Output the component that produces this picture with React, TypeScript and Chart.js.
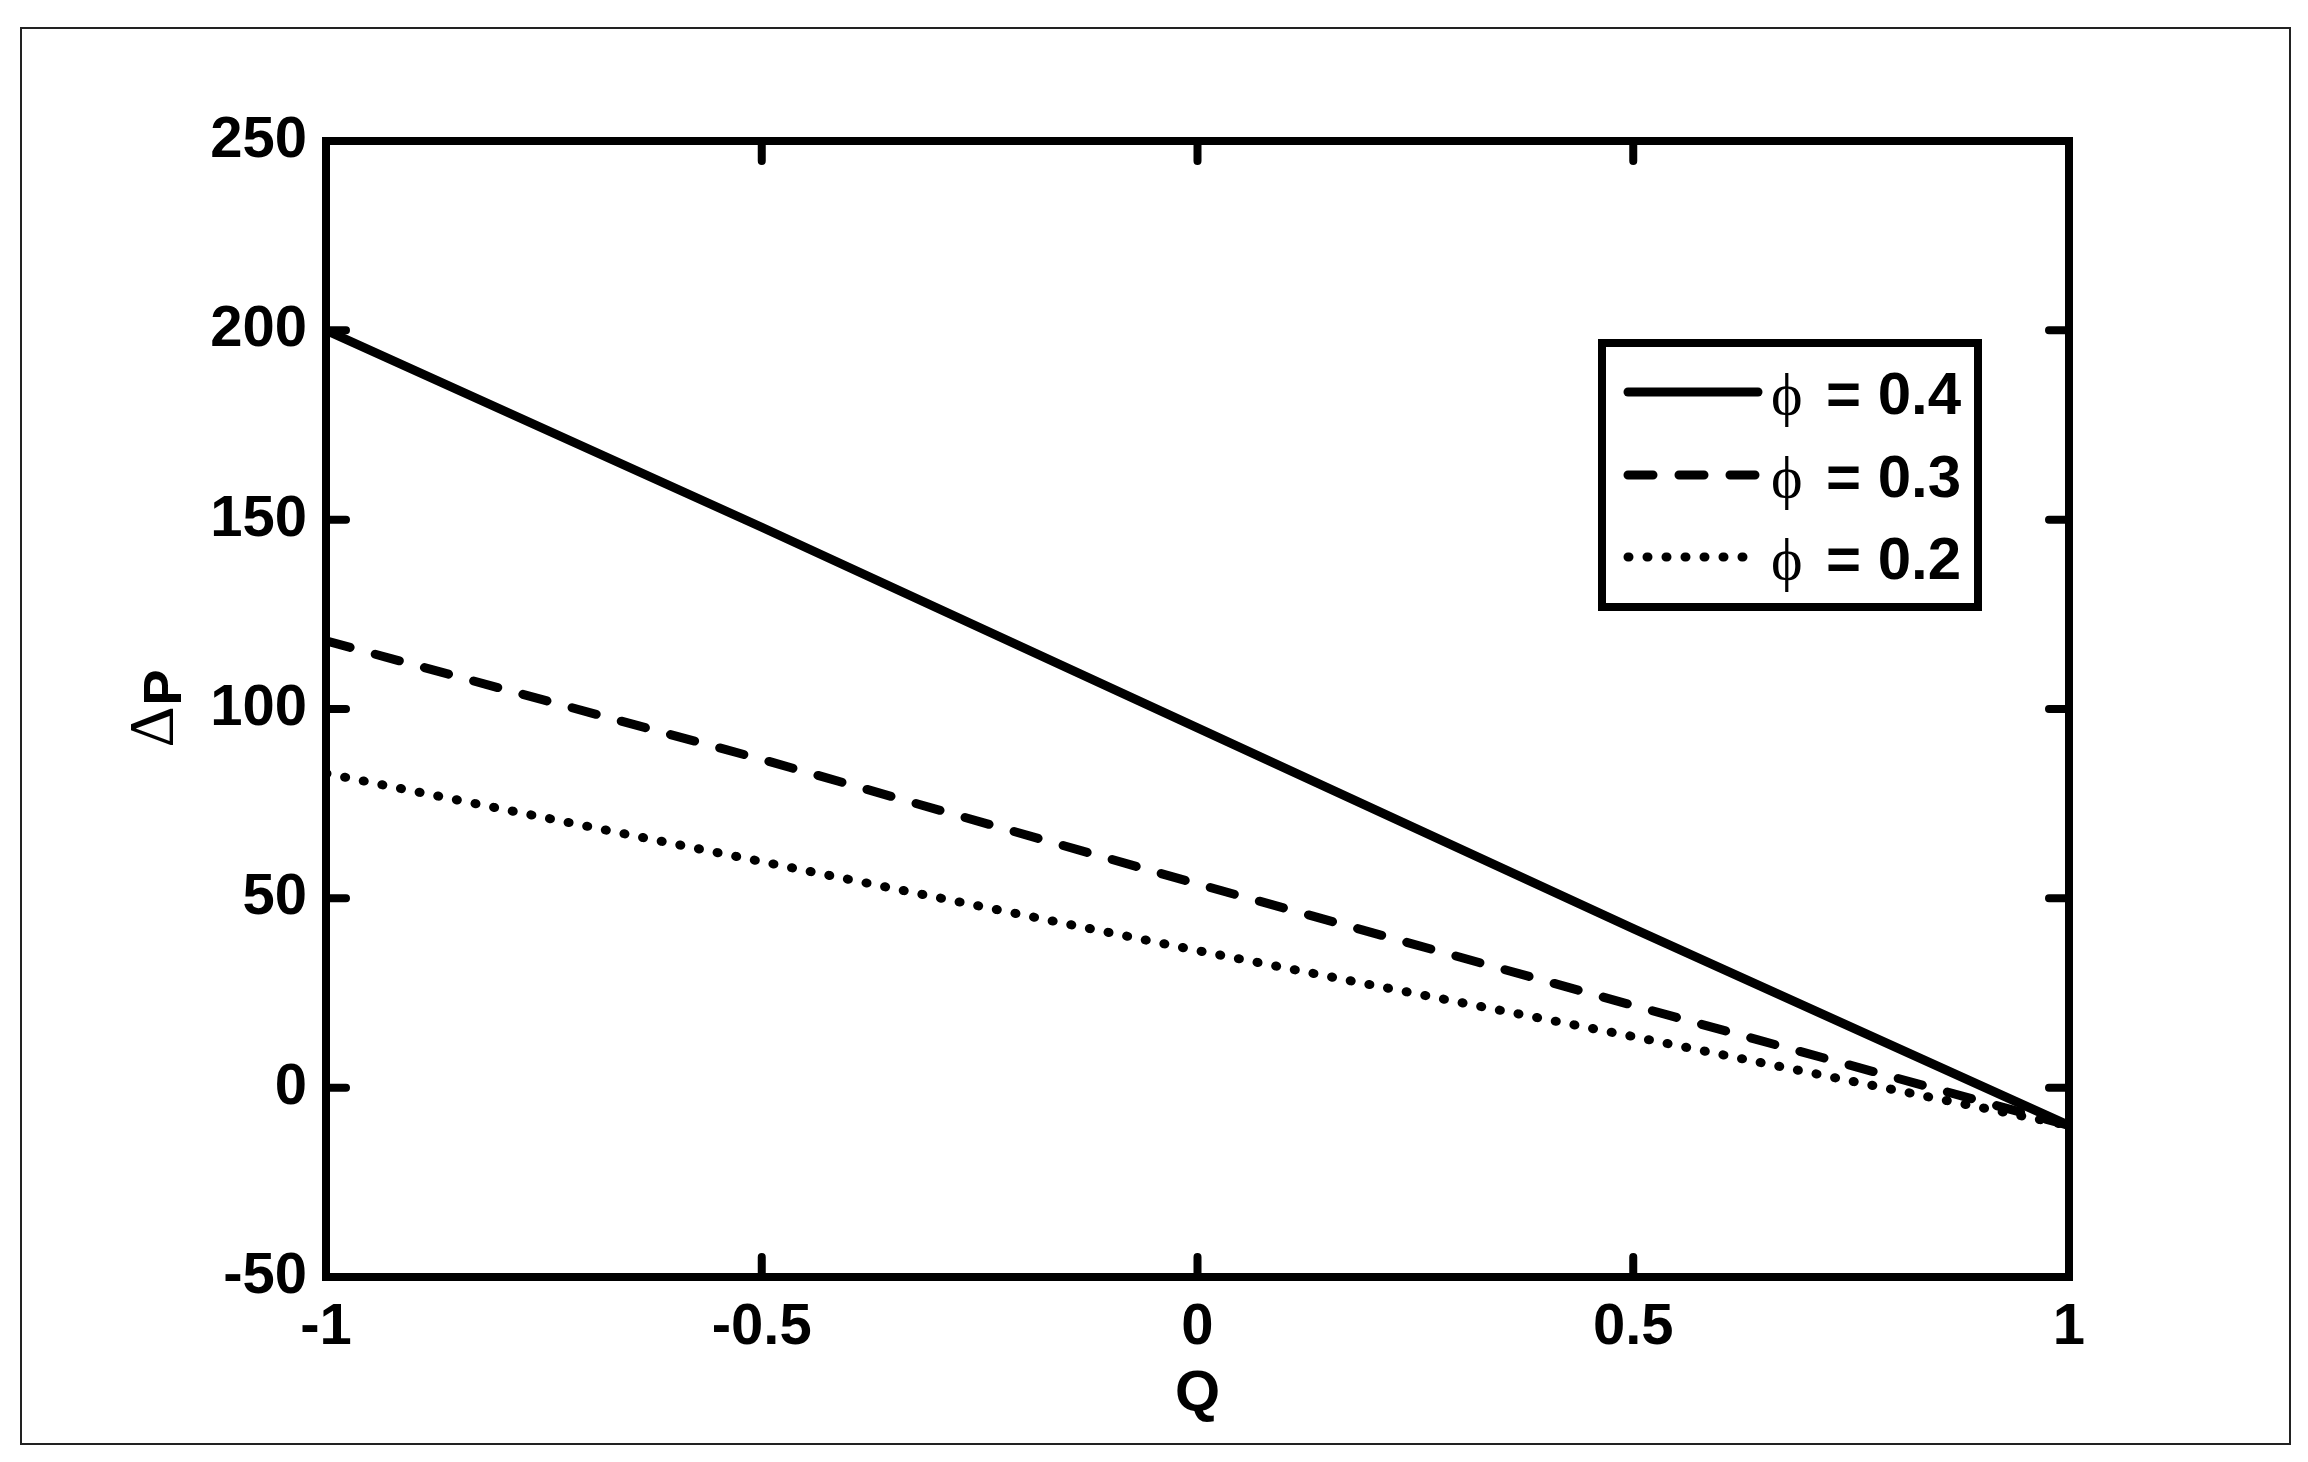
import React, { useEffect, useRef } from 'react';
import { Chart, registerables } from 'chart.js';

Chart.register(...registerables);

// ---- data ----
const qValues = [-1, -0.5, 0, 0.5, 1];
const phi04 = [200, 148, 95, 42, -10];
const phi03 = [118, 86.7, 53.8, 21.7, -10];
const phi02 = [83, 59.7, 36.2, 13.5, -10];
const seriesLabels = ['ϕ = 0.4', 'ϕ = 0.3', 'ϕ = 0.2'];
const xTicks = [-1, -0.5, 0, 0.5, 1];
const xTickLabels = ['-1', '-0.5', '0', '0.5', '1'];
const yTicks = [-50, 0, 50, 100, 150, 200, 250];
const yTickLabels = ['-50', '0', '50', '100', '150', '200', '250'];
const xTitle = 'Q';
const yTitleSymbol = 'Δ';
const yTitleText = 'P';

const SANS = "'Liberation Sans', Arial, Helvetica, sans-serif";
const SERIF = "'Liberation Serif', 'Times New Roman', serif";
const LW = 9;
const dashStyles: number[][] = [[], [25, 26], [1, 18]];

const W = 2308;
const H = 1462;

const decorPlugin = {
  id: 'matlabDecor',
  beforeDraw(chart: any) {
    const { ctx } = chart;
    ctx.save();
    ctx.fillStyle = '#fff';
    ctx.fillRect(0, 0, W, H);
    // outer figure frame
    ctx.strokeStyle = '#222';
    ctx.lineWidth = 2;
    ctx.strokeRect(21, 28, 2269, 1416);
    ctx.restore();
  },
  afterDatasetsDraw(chart: any) {
    const { ctx, chartArea: a, scales } = chart;
    ctx.save();
    ctx.strokeStyle = '#000';
    ctx.lineWidth = 8;
    ctx.lineCap = 'round';
    const tl = 20;
    for (const v of yTicks) {
      const y = scales.y.getPixelForValue(v);
      ctx.beginPath();
      ctx.moveTo(a.left, y);
      ctx.lineTo(a.left + tl, y);
      ctx.moveTo(a.right - tl, y);
      ctx.lineTo(a.right, y);
      ctx.stroke();
    }
    for (const v of xTicks) {
      const x = scales.x.getPixelForValue(v);
      ctx.beginPath();
      ctx.moveTo(x, a.bottom);
      ctx.lineTo(x, a.bottom - tl);
      ctx.moveTo(x, a.top);
      ctx.lineTo(x, a.top + tl);
      ctx.stroke();
    }
    ctx.lineCap = 'butt';
    ctx.lineJoin = 'miter';
    ctx.strokeRect(a.left, a.top, a.right - a.left, a.bottom - a.top);

    // axis titles
    ctx.fillStyle = '#000';
    ctx.font = `bold 58px ${SANS}`;
    ctx.textAlign = 'center';
    ctx.textBaseline = 'alphabetic';
    ctx.fillText(xTitle, (a.left + a.right) / 2, 1411);

    ctx.save();
    const cy = (a.top + a.bottom) / 2;
    ctx.translate(181, cy);
    ctx.rotate(-Math.PI / 2);
    ctx.textAlign = 'left';
    ctx.font = `64px ${SERIF}`;
    const wd = ctx.measureText(yTitleSymbol).width;
    ctx.font = `bold 54px ${SANS}`;
    const wp = ctx.measureText(yTitleText).width;
    const start = -(wd + wp) / 2;
    ctx.font = `64px ${SERIF}`;
    ctx.fillText(yTitleSymbol, start, -8);
    ctx.font = `bold 54px ${SANS}`;
    ctx.fillText(yTitleText, start + wd + 1, 0);
    ctx.restore();

    // legend
    const bx = 1602, by = 343, bw = 376, bh = 264;
    ctx.fillStyle = '#fff';
    ctx.fillRect(bx, by, bw, bh);
    ctx.strokeStyle = '#000';
    ctx.lineWidth = 8;
    ctx.strokeRect(bx, by, bw, bh);
    const rows = [392, 475, 557];
    chart.data.datasets.forEach((ds: any, i: number) => {
      const y = rows[i];
      ctx.save();
      ctx.strokeStyle = '#000';
      ctx.lineWidth = LW;
      ctx.lineCap = 'round';
      ctx.setLineDash(ds.borderDash || []);
      ctx.beginPath();
      ctx.moveTo(1628, y);
      ctx.lineTo(1758, y);
      ctx.stroke();
      ctx.restore();
      const label: string = ds.label;
      const sym = label.slice(0, 1);
      const rest = label.slice(2);
      ctx.fillStyle = '#000';
      ctx.textAlign = 'left';
      ctx.textBaseline = 'alphabetic';
      ctx.font = `60px ${SERIF}`;
      ctx.fillText(sym, 1771, y + 22);
      ctx.font = `bold 60px ${SANS}`;
      ctx.fillText(rest, 1826, y + 22);
    });
    ctx.restore();
  },
};

export default function App() {
  const ref = useRef<HTMLCanvasElement | null>(null);

  useEffect(() => {
    if (!ref.current) return;
    const series = [phi04, phi03, phi02];
    const chart = new Chart(ref.current, {
      type: 'line',
      data: {
        datasets: series.map((vals, i) => ({
          label: seriesLabels[i],
          data: qValues.map((q, j) => ({ x: q, y: vals[j] })),
          borderColor: '#000',
          borderWidth: LW,
          borderDash: dashStyles[i],
          borderCapStyle: 'round',
          borderJoinStyle: 'round',
          pointRadius: 0,
          tension: 0,
          fill: false,
        })),
      },
      options: {
        responsive: false,
        animation: false,
        events: [],
        layout: { padding: { top: 141, right: 239, bottom: 0, left: 0 } },
        plugins: { legend: { display: false }, tooltip: { enabled: false }, title: { display: false } },
        scales: {
          x: {
            type: 'linear',
            min: -1,
            max: 1,
            grid: { display: false, drawTicks: false },
            border: { display: false },
            afterBuildTicks: (scale: any) => {
              scale.ticks = xTicks.map((v) => ({ value: v }));
            },
            afterFit: (scale: any) => {
              scale.height = 185;
            },
            ticks: {
              autoSkip: false,
              maxRotation: 0,
              minRotation: 0,
              padding: 16,
              color: '#000',
              font: { family: SANS, weight: 'bold', size: 58 },
              callback: (_v: any, idx: number) => xTickLabels[idx],
            },
          },
          y: {
            type: 'linear',
            min: -50,
            max: 250,
            grid: { display: false, drawTicks: false },
            border: { display: false },
            afterBuildTicks: (scale: any) => {
              scale.ticks = yTicks.map((v) => ({ value: v }));
            },
            afterFit: (scale: any) => {
              scale.width = 326;
            },
            ticks: {
              autoSkip: false,
              padding: 19,
              color: '#000',
              font: { family: SANS, weight: 'bold', size: 58 },
              callback: (_v: any, idx: number) => yTickLabels[idx],
            },
          },
        },
      } as any,
      plugins: [decorPlugin],
    });
    return () => chart.destroy();
  }, []);

  return (
    <div style={{ position: 'fixed', left: 0, top: 0, width: W, height: H, background: '#fff' }}>
      <canvas ref={ref} width={W} height={H} style={{ width: W, height: H, display: 'block' }} />
    </div>
  );
}
